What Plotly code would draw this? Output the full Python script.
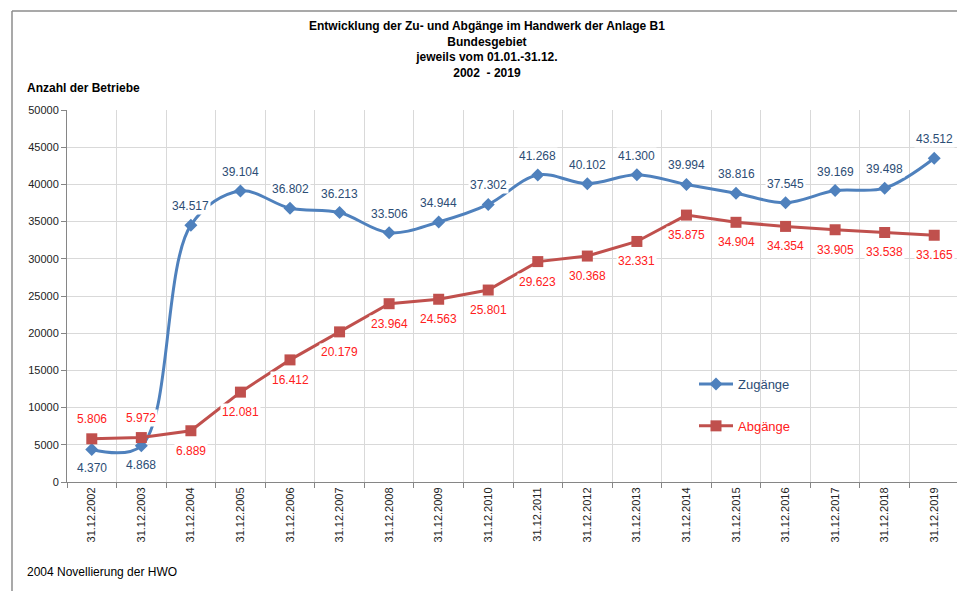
import plotly.graph_objects as go

years = list(range(2002, 2020))
categories = [f"31.12.{y}" for y in years]
zugaenge = [4370, 4868, 34517, 39104, 36802, 36213, 33506, 34944, 37302,
            41268, 40102, 41300, 39994, 38816, 37545, 39169, 39498, 43512]
abgaenge = [5806, 5972, 6889, 12081, 16412, 20179, 23964, 24563, 25801,
            29623, 30368, 32331, 35875, 34904, 34354, 33905, 33538, 33165]
y_ticks = list(range(0, 50001, 5000))

BLUE = "#4F81BD"
RED = "#C0504D"
BLUE_TXT = "#2C4D75"
RED_TXT = "#FF2020"
LABEL_FONT = "Liberation Sans, Arial, sans-serif"
BASE_FONT = "Liberation Sans, Arial"

def de_fmt(v):
    return f"{v:,}".replace(",", ".")

# the page body adds an 8px offset; work in reference-pixel coordinates
OFF = 8
fig_w, fig_h = 965 - OFF, 591 - OFF
plot_left, plot_right, plot_top, plot_bottom = 67, 959, 110, 482
ml = plot_left - OFF
mr = fig_w - (plot_right - OFF)
mt = plot_top - OFF
mb = fig_h - (plot_bottom - OFF)
pw, ph = fig_w - ml - mr, fig_h - mt - mb

def px_x(px):
    return (px - OFF - ml) / pw

def px_y(py):
    return (fig_h - mb - (py - OFF)) / ph

fig = go.Figure()
fig.add_trace(go.Scatter(
    x=categories, y=zugaenge, mode="lines+markers",
    name=f'<span style="color:{BLUE_TXT}">Zugänge</span>',
    line=dict(color=BLUE, width=3, shape="spline", smoothing=1.0),
    marker=dict(symbol="diamond", size=10, color=BLUE),
    legendgroup="z", cliponaxis=False,
))
fig.add_trace(go.Scatter(
    x=categories, y=abgaenge, mode="lines+markers",
    name=f'<span style="color:{RED_TXT}">Abgänge</span>',
    line=dict(color=RED, width=3),
    marker=dict(symbol="square", size=11, color=RED),
    legendgroup="a", cliponaxis=False,
))

annotations = []
for c, z, a in zip(categories, zugaenge, abgaenge):
    z_above = z >= a
    annotations.append(dict(
        x=c, y=z, xref="x", yref="y", text=de_fmt(z), showarrow=False,
        yshift=19 if z_above else -19, bgcolor="white", borderpad=1,
        font=dict(family=LABEL_FONT, size=12, color=BLUE_TXT)))
    annotations.append(dict(
        x=c, y=a, xref="x", yref="y", text=de_fmt(a), showarrow=False,
        yshift=-20 if z_above else 20, bgcolor="white", borderpad=1,
        font=dict(family=LABEL_FONT, size=12, color=RED_TXT)))

title_lines = ["Entwicklung der Zu- und Abgänge im Handwerk der Anlage B1",
               "Bundesgebiet", "jeweils vom 01.01.-31.12.", "2002  - 2019"]
annotations.append(dict(
    x=px_x(487), y=px_y(50), xref="paper", yref="paper", showarrow=False,
    xanchor="center", yanchor="middle",
    text="<b>" + "<br>".join(title_lines) + "</b>",
    font=dict(family=BASE_FONT, size=12, color="black")))
annotations.append(dict(
    x=px_x(25), y=px_y(88), xref="paper", yref="paper", showarrow=False,
    xanchor="left", yanchor="middle", text="<b>Anzahl der Betriebe</b>",
    font=dict(family=BASE_FONT, size=12, color="black")))
annotations.append(dict(
    x=px_x(25), y=px_y(572), xref="paper", yref="paper", showarrow=False,
    xanchor="left", yanchor="middle", text="2004 Novellierung der HWO",
    font=dict(family=BASE_FONT, size=12, color="black")))

fig.update_layout(
    width=fig_w, height=fig_h,
    margin=dict(l=ml, r=mr, t=mt, b=mb),
    paper_bgcolor="white", plot_bgcolor="white",
    annotations=annotations,
    showlegend=True,
    legend=dict(x=px_x(694), y=px_y(369), xanchor="left", yanchor="top",
                bgcolor="rgba(0,0,0,0)", tracegroupgap=22,
                traceorder="grouped", itemwidth=34,
                font=dict(family=BASE_FONT, size=13)),
    shapes=[dict(type="line", xref="paper", yref="paper",
                 x0=px_x(12), x1=px_x(12), y0=px_y(600), y1=px_y(11),
                 line=dict(color="#8C8C8C", width=1.5)),
            dict(type="line", xref="paper", yref="paper",
                 x0=px_x(12), x1=px_x(980), y0=px_y(11), y1=px_y(11),
                 line=dict(color="#8C8C8C", width=1.5))],
    xaxis=dict(
        type="category", categoryorder="array", categoryarray=categories,
        range=[-0.5, len(categories) - 0.5],
        tickangle=-90, tickson="boundaries", ticks="outside", ticklen=5,
        tickcolor="#868686", showline=True, linecolor="#868686", linewidth=1,
        showgrid=True, gridcolor="#D9D9D9", gridwidth=1,
        tickfont=dict(family=BASE_FONT, size=11, color="#222222"),
    ),
    yaxis=dict(
        range=[0, 50000], tickvals=y_ticks, ticktext=[str(v) for v in y_ticks],
        ticks="outside", ticklen=5, tickcolor="#868686",
        showline=True, linecolor="#868686", linewidth=1,
        showgrid=True, gridcolor="#D9D9D9", gridwidth=1, zeroline=False,
        tickfont=dict(family=BASE_FONT, size=11, color="#222222"),
    ),
)

fig.write_html("out.html")
